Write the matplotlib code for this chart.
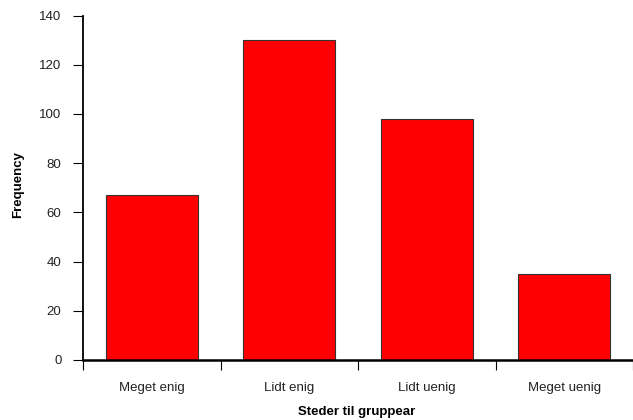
import matplotlib
matplotlib.use("Agg")
import matplotlib.pyplot as plt
import numpy as np

categories = ["Meget enig", "Lidt enig", "Lidt uenig", "Meget uenig"]
frequency = [67, 130, 98, 35]
yticks = [0, 20, 40, 60, 80, 100, 120, 140]

plt.rcParams['font.family'] = ['Liberation Sans', 'DejaVu Sans']

fig = plt.figure(figsize=(6.33, 4.20), dpi=100)
ax = fig.add_axes([83/633, 60/420, 550/633, 344.5/420])

x = np.arange(len(categories)) + 0.5
ax.bar(x, frequency, width=0.67, color="#FF0000", edgecolor="#333333", linewidth=0.8, zorder=2)

ax.set_xlim(0, len(categories))
ax.set_ylim(0, 140)
ax.set_yticks(yticks)
ax.set_yticklabels([str(v) for v in yticks], fontsize=9.5, color="#222222")

ax.set_xticks(np.arange(len(categories) + 1))
ax.set_xticklabels([])
ax.set_xticks(x, minor=True)
ax.set_xticklabels(categories, minor=True, fontsize=9.5, color="#222222")
ax.tick_params(axis='x', which='major', direction='out', length=7.5, width=0.8)
ax.tick_params(axis='x', which='minor', length=0, pad=16)
ax.tick_params(axis='y', direction='out', length=7.5, width=0.8, pad=8)

for s in ['top', 'right']:
    ax.spines[s].set_visible(False)
ax.spines['left'].set_linewidth(1.3)
ax.spines['bottom'].set_linewidth(1.8)

ax.set_xlabel("Steder til gruppear", fontsize=9.5, fontweight='bold', va='center')
ax.xaxis.set_label_coords(0.498, -0.151)
ax.set_ylabel("Frequency", fontsize=9.5, fontweight='bold', va='center')
ax.yaxis.set_label_coords(-0.118, 0.508)

fig.savefig("out.png", dpi=100)
